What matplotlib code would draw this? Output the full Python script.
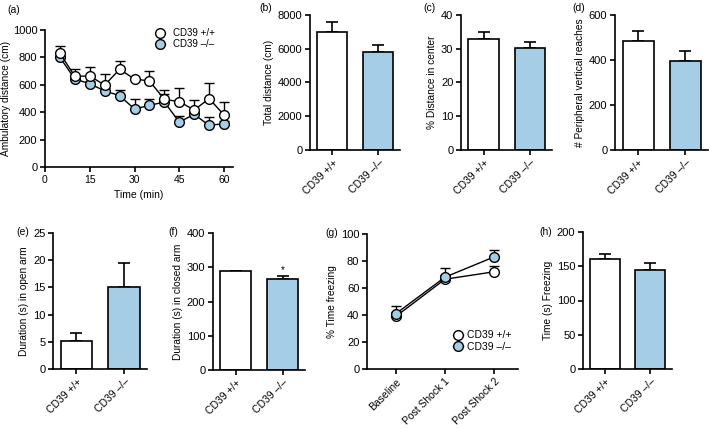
import numpy as np
import matplotlib
matplotlib.use('Agg')
from matplotlib import pyplot as plt

plt.rcParams['font.family'] = ['Liberation Sans', 'DejaVu Sans']
plt.rcParams['font.size'] = 7.5
plt.rcParams['ytick.labelsize'] = 8
plt.rcParams['xtick.labelsize'] = 7.5
plt.rcParams['axes.labelsize'] = 7.3
plt.rcParams['axes.linewidth'] = 1.2
plt.rcParams['xtick.major.width'] = 1.2
plt.rcParams['ytick.major.width'] = 1.2
plt.rcParams['xtick.major.size'] = 3.5
plt.rcParams['ytick.major.size'] = 3.5

BLUE = '#a6cde6'

# Data
groups = ['CD39 +/+', 'CD39 \u2013/\u2013']
time_min = [5, 10, 15, 20, 25, 30, 35, 40, 45, 50, 55, 60]
amb_wt = [830, 662, 664, 598, 713, 642, 628, 494, 477, 416, 499, 380]
amb_wt_err = [56, 53, 68, 81, 61, 10, 75, 66, 100, 73, 112, 92]
amb_ko = [800, 642, 608, 555, 521, 423, 450, 474, 328, 384, 304, 316]
amb_ko_err = [40, 20, 20, 20, 43, 71, 44, 60, 44, 20, 59, 20]

total_dist = [7000, 5800]
total_dist_err = [600, 450]
pct_center = [33.0, 30.2]
pct_center_err = [2.0, 1.8]
vert_reaches = [484, 395]
vert_reaches_err = [44, 43]
open_arm = [5.2, 15.0]
open_arm_err = [1.4, 4.4]
closed_arm = [288, 266]
closed_arm_err = [2, 7]

fear_phases = ['Baseline', 'Post Shock 1', 'Post Shock 2']
freeze_wt = [39, 66.5, 72]
freeze_wt_err = [3, 3, 4]
freeze_ko = [41, 68, 83]
freeze_ko_err = [6, 6.6, 5.5]
freeze_time = [161, 145]
freeze_time_err = [7, 10]

W, H = 709, 429
fig = plt.figure(figsize=(W / 100, H / 100), dpi=100)


def box(l, r, t, b):
    return [l / W, 1 - b / H, (r - l) / W, (b - t) / H]


def style(ax):
    ax.spines['top'].set_visible(False)
    ax.spines['right'].set_visible(False)
    ax.tick_params(direction='out', pad=2)


def barpanel(rect, vals, errs, ylim, yticks, ylabel, letter, lx, ly):
    ax = fig.add_axes(box(*rect))
    style(ax)
    x = np.arange(len(vals))
    ax.bar(x, vals, width=0.66, color=['white', BLUE], edgecolor='black', linewidth=1.2, zorder=2)
    ax.errorbar(x, vals, yerr=[np.zeros(len(errs)), errs], fmt='none', ecolor='black',
                elinewidth=1.2, capsize=4.5, capthick=1.2, zorder=1)
    ax.set_xlim(-0.49, 1.48)
    ax.set_ylim(*ylim)
    ax.set_yticks(yticks)
    ax.set_xticks(x)
    ax.set_xticklabels(groups, rotation=45, ha='right', rotation_mode='anchor')
    ax.set_ylabel(ylabel, labelpad=3)
    fig.text(lx / W, 1 - ly / H, letter, ha='left', va='center', fontsize=7.5)
    return ax


# (a)
ax = fig.add_axes(box(45, 233, 30, 167))
style(ax)
ax.errorbar(time_min, amb_ko, yerr=[np.zeros(12), amb_ko_err], fmt='-o', color='black',
            mfc=BLUE, mec='black', ms=7, mew=1, lw=1, capsize=3.5, elinewidth=1, zorder=2,
            label=groups[1])
ax.errorbar(time_min, amb_wt, yerr=[np.zeros(12), amb_wt_err], fmt='-o', color='black',
            mfc='white', mec='black', ms=7, mew=1, lw=1, capsize=3.5, elinewidth=1, zorder=3,
            label=groups[0])
ax.set_xlim(0, 63)
ax.set_ylim(0, 1000)
ax.set_xticks([0, 15, 30, 45, 60])
ax.set_yticks([0, 200, 400, 600, 800, 1000])
ax.set_xlabel('Time (min)', labelpad=4, fontsize=7.5)
ax.set_ylabel('Ambulatory distance (cm)', labelpad=1.5)
h, l = ax.get_legend_handles_labels()
ax.legend([h[1][0], h[0][0]], [l[1], l[0]], loc='upper right', frameon=False, fontsize=7,
          handlelength=1, handletextpad=0.8, borderaxespad=0.1, labelspacing=0.15,
          bbox_to_anchor=(0.93, 1.05))
fig.text(7 / W, 1 - 10 / H, '(a)', ha='left', va='center')

# (b)-(d)
barpanel((310, 400, 15, 150), total_dist, total_dist_err, (0, 8000),
         [0, 2000, 4000, 6000, 8000], 'Total distance (cm)', '(b)', 259, 8)
barpanel((461, 552, 15, 150), pct_center, pct_center_err, (0, 40),
         [0, 10, 20, 30, 40], '% Distance in center', '(c)', 423, 8)
barpanel((615, 708, 15, 150), vert_reaches, vert_reaches_err, (0, 600),
         [0, 200, 400, 600], '# Peripheral vertical reaches', '(d)', 572, 8)

# (e)-(f)
barpanel((53, 147, 233, 369), open_arm, open_arm_err, (0, 25),
         [0, 5, 10, 15, 20, 25], 'Duration (s) in open arm', '(e)', 16, 232)
axf = barpanel((213, 305, 233, 370), closed_arm, closed_arm_err, (0, 400),
               [0, 100, 200, 300, 400], 'Duration (s) in closed arm', '(f)', 168, 232)
axf.text(1, 276, '*', ha='center', va='bottom', fontsize=7)

# (g)
ax = fig.add_axes(box(367, 518, 234, 369))
style(ax)
xg = np.arange(3)
ax.errorbar(xg, freeze_wt, yerr=[np.zeros(3), freeze_wt_err], fmt='-o', color='black',
            mfc='white', mec='black', ms=7, mew=1, lw=1, capsize=3.5, elinewidth=1, zorder=2,
            label=groups[0])
ax.errorbar(xg, freeze_ko, yerr=[np.zeros(3), freeze_ko_err], fmt='-o', color='black',
            mfc=BLUE, mec='black', ms=7, mew=1, lw=1, capsize=3.5, elinewidth=1, zorder=3,
            label=groups[1])
ax.set_xlim(-0.59, 2.49)
ax.set_ylim(0, 100)
ax.set_yticks([0, 20, 40, 60, 80, 100])
ax.set_xticks(xg)
ax.set_xticklabels(fear_phases, rotation=45, ha='right', rotation_mode='anchor')
ax.set_ylabel('% Time freezing', labelpad=3)
h, l = ax.get_legend_handles_labels()
ax.legend([h[0][0], h[1][0]], l, loc='lower right', frameon=False, fontsize=7.5,
          handlelength=1, handletextpad=0.4, borderaxespad=0.2, labelspacing=0.15,
          bbox_to_anchor=(1.0, 0.08))
fig.text(325 / W, 1 - 233 / H, '(g)', ha='left', va='center')

# (h)
barpanel((583, 672, 232, 369), freeze_time, freeze_time_err, (0, 200),
         [0, 50, 100, 150, 200], 'Time (s) Freezing', '(h)', 539, 232)

fig.savefig('out.png', dpi=100)
